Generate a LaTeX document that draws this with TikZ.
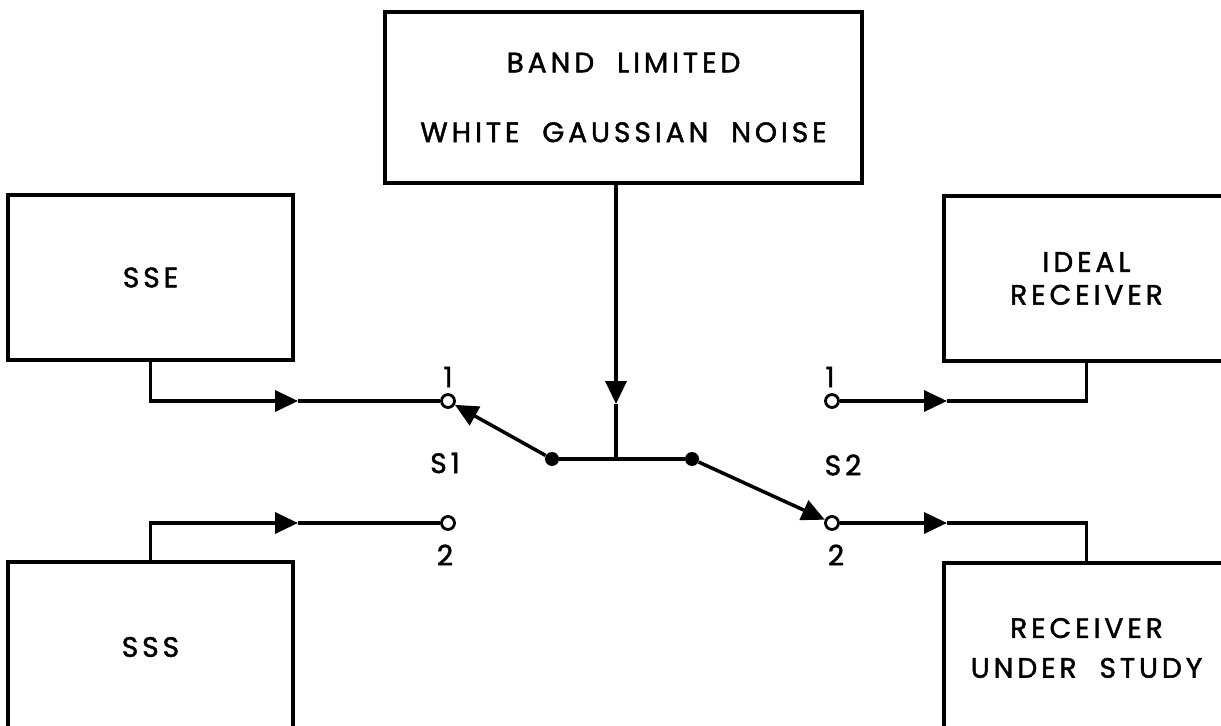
\documentclass[tikz,border=0pt]{standalone}
\usepackage{fontspec}
\setmainfont{Poppins}[LetterSpace=14,FakeBold=1.6,WordSpace=2]
\usetikzlibrary{arrows.meta}
\begin{document}
\begin{tikzpicture}[x=0.02cm,y=-0.02cm,
  blk/.style={draw,line width=2.2pt,minimum width=5.7cm,minimum height=3.3cm,align=center,inner sep=0pt,
    font=\fontsize{16}{19}\selectfont},
  wire/.style={line width=2pt},
  tip/.style={-{Triangle[length=0.46cm,width=0.42cm]}},
  term/.style={circle,draw,line width=1.6pt,fill=white,minimum size=0.26cm,inner sep=0pt},
  pivot/.style={circle,fill,minimum size=0.28cm,inner sep=0pt},
  lbl/.style={font=\fontsize{16}{19}\selectfont,inner sep=0pt}]
\useasboundingbox (0,0) rectangle (1221,726);
\clip (0,0) rectangle (1221,726);
\fill[white] (0,0) rectangle (1221,726);
% boxes
\node[blk,minimum width=9.54cm,minimum height=3.42cm] (noise) at (623.5,97.5) {BAND LIMITED\\[20.7pt]WHITE GAUSSIAN NOISE};
\node[blk] (sse) at (150.5,277.5) {SSE};
\node[blk,minimum height=3.4cm] (sss) at (150.5,647) {SSS};
\node[blk] (ideal) at (1086.5,278.5) {IDEAL\\[-0.3pt]RECEIVER};
\node[blk,minimum height=3.4cm] (rus) at (1086.5,648) {RECEIVER\\[3.7pt]UNDER STUDY};
% terminals
\node[term] (c1) at (448,401) {};
\node[term] (c2) at (448,523) {};
\node[term] (c3) at (832,401) {};
\node[term] (c4) at (832,523) {};
\node[pivot] (d1) at (552,459) {};
\node[pivot] (d2) at (692,459) {};
\coordinate (nj) at (616,459);
\coordinate (nt) at (616,404);
\coordinate (a1) at (298,401);
\coordinate (a2) at (298,523);
\coordinate (a3) at (947,401);
\coordinate (a4) at (947,523);
% wires
\draw[wire,tip] (sse.south) |- (a1);
\draw[wire] (a1) -- (c1);
\draw[wire,tip] (sss.north) |- (a2);
\draw[wire] (a2) -- (c2);
\draw[wire,tip] (c3) -- (a3);
\draw[wire] (a3) -| (ideal.south);
\draw[wire,tip] (c4) -- (a4);
\draw[wire] (a4) -| (rus.north);
\draw[wire,tip] (nt |- noise.south) -- (nt);
\draw[wire] (nt) -- (nj);
\draw[wire] (d1) -- (d2);
\draw[wire,tip] (d1) -- (c1);
\draw[wire,tip] (d2) -- (c4);
% labels
\node[lbl] (l1) at (448,377) {1};
\node[lbl] (l2) at (445,555) {2};
\node[lbl] (s1) at (445,463) {S1};
\node[lbl] (s2) at (843,465) {S2};
\node[lbl] (r1) at (830,377) {1};
\node[lbl] (r2) at (836,555) {2};
\end{tikzpicture}
\end{document}
